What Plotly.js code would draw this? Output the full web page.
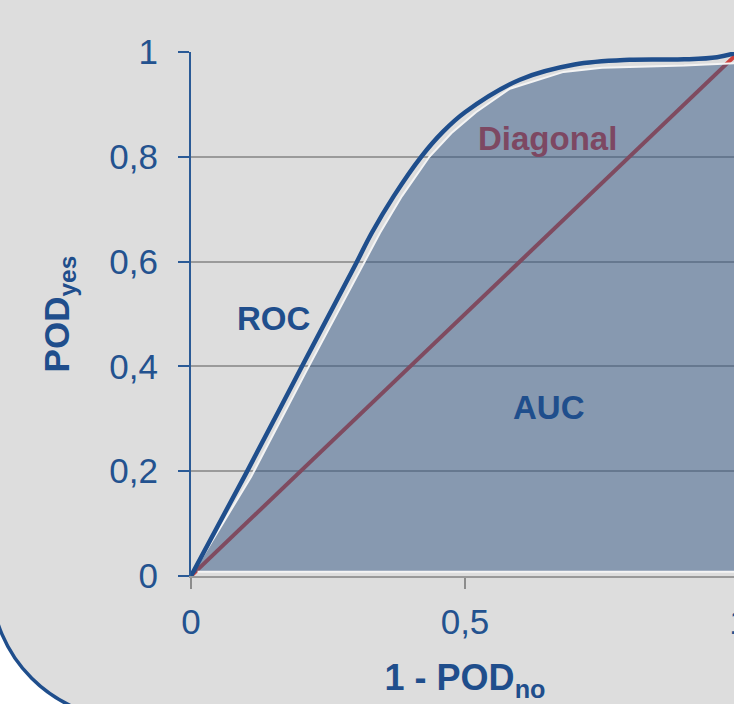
<!DOCTYPE html>
<html>
<head>
<meta charset="utf-8">
<script src="https://cdn.plot.ly/plotly-3.0.1.min.js"></script>
<style>
html, body { margin: 0; padding: 0; overflow: hidden; background: #ffffff; }
#chart { width: 769px; height: 704px; }
</style>
</head>
<body>
<div id="chart"></div>
<script>
// ROC curve (1 - POD_no vs POD_yes)
const rocX = [0, 0.1, 0.2, 0.3, 0.33, 0.37, 0.42, 0.46, 0.5, 0.6, 0.7, 0.8, 0.9, 0.96, 1];
const rocY = [0, 0.195, 0.395, 0.594, 0.655, 0.725, 0.80, 0.848, 0.885, 0.947, 0.976, 0.985, 0.986, 0.99, 1];

// Shaded area under the curve (AUC polygon)
const aucX = [0, 0.11, 0.21, 0.312, 0.345, 0.385, 0.435, 0.475, 0.52, 0.582, 0.68, 0.75, 0.9, 1, 1, 0.012];
const aucY = [0, 0.19, 0.39, 0.59, 0.655, 0.725, 0.80, 0.845, 0.885, 0.93, 0.962, 0.97, 0.974, 0.979, 0.008, 0.008];

// Diagonal reference line
const diagX = [0, 1];
const diagY = [0, 1];

// Tick labels
const xTickVals = [0, 0.5, 1];
const xTickText = ['0', '0,5', '1'];
const yTickVals = [0, 0.2, 0.4, 0.6, 0.8, 1];
const yTickText = ['0', '0,2', '0,4', '0,6', '0,8', '1'];

// Text labels
const labels = [
  {text: 'ROC', x: 0.151, y: 0.492, color: '#1f4e8c'},
  {text: 'AUC', x: 0.653, y: 0.322, color: '#1f4e8c'},
  {text: 'Diagonal', x: 0.651, y: 0.835, color: '#7d4862'}
];

const FONT = '"Liberation Sans", Arial, sans-serif';
const BLUE = '#1f4e8c';

const traces = [
  {x: diagX, y: diagY, mode: 'lines', line: {color: 'rgb(204,64,60)', width: 4}, hoverinfo: 'skip'},
  {x: aucX, y: aucY, mode: 'lines', fill: 'toself', fillcolor: 'rgba(49,85,131,0.5)',
   line: {color: '#f4f4f4', width: 2}, hoverinfo: 'skip'},
  {x: rocX, y: rocY, mode: 'lines', line: {color: BLUE, width: 4.5, shape: 'spline', smoothing: 1}, hoverinfo: 'skip'}
];

const layout = {
  width: 769, height: 704,
  margin: {l: 191, r: 30, t: 52, b: 128},
  paper_bgcolor: '#ffffff',
  plot_bgcolor: 'rgba(0,0,0,0)',
  showlegend: false,
  font: {family: FONT, color: BLUE},
  xaxis: {
    range: [0, 1], tickvals: xTickVals, ticktext: xTickText,
    showgrid: false, zeroline: false,
    showline: true, linecolor: '#999999', linewidth: 2,
    ticks: 'outside', ticklen: 11, tickwidth: 2, tickcolor: '#8c8c8c',
    ticklabelstandoff: 3,
    tickfont: {family: FONT, size: 35, color: '#23528f'},
    title: {text: '<b>1 - POD<sub>no</sub></b>', font: {family: FONT, size: 36, color: BLUE}, standoff: 25}
  },
  yaxis: {
    range: [0, 1], tickvals: yTickVals, ticktext: yTickText,
    showgrid: true, gridcolor: '#9a9a9a', gridwidth: 2, zeroline: false,
    showline: true, linecolor: '#2a5a96', linewidth: 2,
    ticks: 'outside', ticklen: 11, tickwidth: 2, tickcolor: '#2a5a96',
    ticklabelstandoff: 13,
    tickfont: {family: FONT, size: 35, color: '#23528f'},
    title: {text: '<b>POD<sub>yes</sub></b>', font: {family: FONT, size: 35, color: BLUE}, standoff: 29}
  },
  shapes: [{
    type: 'path', layer: 'below',
    xref: 'paper', yref: 'paper', xsizemode: 'pixel', ysizemode: 'pixel',
    xanchor: 0, yanchor: 0,
    path: 'M -200,700 L -200,-4 C -200,-80.8 -137.8,-143 -61,-143 L 700,-143 L 700,700 Z',
    fillcolor: '#dddddd', line: {color: BLUE, width: 3.5}
  }],
  annotations: labels.map(l => ({
    text: '<b>' + l.text + '</b>', x: l.x, y: l.y, xref: 'x', yref: 'y',
    showarrow: false, font: {family: FONT, size: 33, color: l.color}
  }))
};

Plotly.newPlot('chart', traces, layout, {displayModeBar: false, staticPlot: true});
</script>
</body>
</html>
